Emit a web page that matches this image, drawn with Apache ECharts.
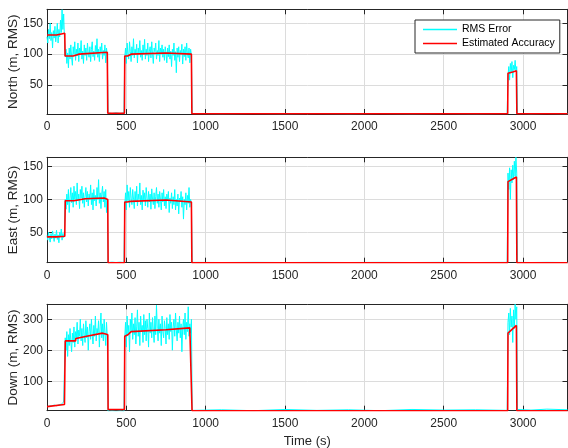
<!DOCTYPE html>
<html>
<head>
<meta charset="utf-8">
<script src="https://cdn.jsdelivr.net/npm/echarts@6/dist/echarts.min.js"></script>
<style>
html,body{margin:0;padding:0;background:#fff;}
#chart{width:568px;height:448px;}
</style>
</head>
<body>
<div id="chart"></div>
<script>
// ---------------- DATA ----------------
const X_MAX = 3280;
const X_TICK_STEP = 500;
const SAMPLE_STEP = 5;            // seconds between listed RMS samples
const seg1Start = 0;              // 0 .. 380 s
const seg2Start = 490;            // 490 .. 910 s
const seg3Start = 2905;           // 2905 .. 2960 s
const gap1T = [385, 410, 435, 460, 485];
const gap2T = [915, 1100, 1300, 1500, 1700, 1900, 2100, 2300, 2500, 2700, 2900];
const gap3T = [2965, 3050, 3150, 3280];

const yLabels = ['North (m, RMS)', 'East (m, RMS)', 'Down (m, RMS)'];
const xLabel = 'Time (s)';
const legendNames = ['RMS Error', 'Estimated Accuracy'];

// North
const northRms1 = [128,118,140,125,150,122,135,110,138,126,
  145,120,132,150,118,140,128,155,135,172,
  140,165,125,96,108,85,102,78,110,92,
  115,95,82,112,100,120,90,108,97,118,
  88,110,102,122,92,105,85,115,98,110,
  90,118,102,95,112,88,108,120,96,105,
  90,114,100,125,95,108,88,112,102,118,
  92,106,98,115,86,110,96];
const northRms2 = [95,110,85,118,100,92,120,104,88,112,
  98,125,94,108,100,116,86,110,102,122,
  95,106,90,115,100,124,92,108,98,118,
  88,105,112,94,120,100,85,110,104,118,
  92,106,98,122,88,110,100,115,95,108,
  90,112,102,86,110,96,115,92,105,80,
  108,98,118,90,104,70,110,95,112,88,
  106,100,116,84,108,96,112,90,118,100,
  94,110,86,108,98];
const northRms3 = [65,80,58,85,70,88,62,82,75,90,72,80];
const northGap1 = [5,4,5,4,5];
const northGap2 = [4,3.5,4,3.5,4,3.5,4,3.5,4,3.5,4];
const northGap3 = [4,3.5,4,3.5];
const northEstT = [0,60,62,112,114,165,168,200,202,380,383,488,490,508,510,530,532,750,752,910,913,2903,2905,2935,2958,2961,3280];
const northEstV = [131,131,134,134,97,97,100,100,103,103,4.5,4.5,97,97,100,100,102,102,100,100,3.5,3.5,69,71,73,3.5,3.5];

// East
const eastRms1 = [45,38,50,42,35,48,40,52,44,36,
  47,41,53,39,46,34,50,43,55,38,
  48,42,52,100,85,108,92,115,80,102,
  118,95,110,88,120,100,112,92,125,98,
  108,86,115,102,120,94,110,88,105,118,
  96,112,90,108,100,122,92,110,84,115,
  98,106,90,118,100,130,94,110,86,108,
  120,96,112,88,115,80,100];
const eastRms2 = [90,110,84,122,98,112,88,118,102,92,
  115,100,86,112,96,120,90,108,100,125,
  92,106,84,114,98,110,90,118,102,88,
  112,96,108,85,116,100,92,110,86,104,
  118,94,108,88,112,100,84,110,96,115,
  90,104,86,108,98,112,80,102,94,110,
  86,104,92,115,84,100,90,108,78,102,
  96,112,88,104,70,100,92,110,84,106,
  94,118,88,100,92];
const eastRms3 = [140,115,148,100,145,125,152,130,158,135,164,140];
const eastGap1 = [4,4.5,4,4.5,4];
const eastGap2 = [4.2,4,4.2,4,4.2,4,4.2,4,4.2,4,4.2];
const eastGap3 = [4.2,4,4.2,4];
const eastEstT = [0,60,62,112,115,170,173,240,242,360,362,383,385,488,490,505,507,525,527,750,752,910,913,2903,2905,2958,2961,3280];
const eastEstV = [43,43,44,44,98,98,101,101,102,102,100,100,3.7,3.7,96,96,97,97,99,99,96,96,3.7,3.7,127,134,3.7,3.7];

// Down
const downRms1 = [18,22,15,20,24,17,21,26,19,23,
  18,25,21,27,20,24,28,22,26,30,
  24,33,27,240,200,260,180,250,215,270,
  230,195,255,225,275,210,260,240,290,220,
  265,245,300,230,270,215,285,250,225,295,
  240,275,200,260,285,235,300,250,220,280,
  245,310,230,270,255,295,210,275,320,240,
  285,230,300,255,215,290,240];
const downRms2 = [240,290,210,310,250,280,195,300,260,320,
  235,285,250,305,220,275,330,245,290,215,
  310,260,280,225,315,250,295,230,300,270,
  210,320,255,290,240,305,265,225,310,250,
  345,270,230,300,255,285,215,310,260,240,
  295,270,220,305,250,285,235,315,260,290,
  200,275,300,245,320,265,230,290,255,310,
  240,285,195,270,300,250,320,235,290,260,
  340,245,285,255,300];
const downRms3 = [290,320,250,335,275,310,225,330,270,348,300,340];
const downGap1 = [3,4,3,4,3];
const downGap2 = [6,8,5,9,6,8,5,9,7,8,6];
const downGap3 = [9,7,10,8];
const downEstT = [0,110,113,115,180,182,250,350,370,383,385,488,490,510,530,750,752,900,912,914,2903,2905,2958,2961,3280];
const downEstV = [18,25,25,230,230,238,245,255,252,250,9,9,245,250,260,266,264,272,272,5,5,255,280,5,5];

const yLimits = [[3.2, 172.6], [3.7, 164], [5, 348]];
const yTickStep = [50, 50, 100];

// ---------------- BUILD ----------------
function seg(start, vals){ return vals.map((v,i)=>[start + i*SAMPLE_STEP, v]); }
function pairs(ts, vs){ return ts.map((t,i)=>[t, vs[i]]); }

const rmsSets = [
  [].concat(seg(seg1Start,northRms1), pairs(gap1T,northGap1), seg(seg2Start,northRms2), pairs(gap2T,northGap2), seg(seg3Start,northRms3), pairs(gap3T,northGap3)),
  [].concat(seg(seg1Start,eastRms1), pairs(gap1T,eastGap1), seg(seg2Start,eastRms2), pairs(gap2T,eastGap2), seg(seg3Start,eastRms3), pairs(gap3T,eastGap3)),
  [].concat(seg(seg1Start,downRms1), pairs(gap1T,downGap1), seg(seg2Start,downRms2), pairs(gap2T,downGap2), seg(seg3Start,downRms3), pairs(gap3T,downGap3))
];
const estSets = [pairs(northEstT,northEstV), pairs(eastEstT,eastEstV), pairs(downEstT,downEstV)];

const AX = '#262626';
const GRIDC = '#dcdcdc';
const FONT = 'Liberation Sans, Arial, Helvetica, sans-serif';
const gridsPos = [
  {top: 9.3, height: 104.7},
  {top: 157.3, height: 105.4},
  {top: 304.3, height: 106.4}
];

const grids = [], xAxes = [], yAxes = [], series = [];
gridsPos.forEach((g, i) => {
  grids.push({left: 47, top: g.top, width: 520.5, height: g.height, outerBoundsMode: 'none', containLabel: false});
  const baseX = {
    type: 'value', gridIndex: i, min: 0, max: X_MAX, interval: X_TICK_STEP,
    axisLine: {show: true, onZero: false, lineStyle: {color: AX, width: 1}},
    axisTick: {show: true, inside: true, length: 5, lineStyle: {color: AX, width: 1}},
  };
  xAxes.push(Object.assign({}, baseX, {
    position: 'bottom',
    axisLabel: {show: true, color: AX, fontSize: 12, fontFamily: FONT, margin: 7,
      formatter: v => (v % X_TICK_STEP === 0 ? String(v) : '')},
    splitLine: {show: true, lineStyle: {color: GRIDC, width: 1}},
    name: i === 2 ? xLabel : '', nameLocation: 'middle', nameGap: 24, nameMoveOverlap: false,
    nameTextStyle: {color: AX, fontSize: 13, fontFamily: FONT}
  }));
  xAxes.push(Object.assign({}, baseX, {
    position: 'top', axisLabel: {show: false}, splitLine: {show: false}
  }));
  const step = yTickStep[i];
  const baseY = {
    type: 'value', gridIndex: i, min: yLimits[i][0], max: yLimits[i][1], splitNumber: 3,
    axisLine: {show: true, onZero: false, lineStyle: {color: AX, width: 1}},
    axisTick: {show: true, inside: true, length: 5, lineStyle: {color: AX, width: 1}},
  };
  yAxes.push(Object.assign({}, baseY, {
    position: 'left',
    axisLabel: {show: true, color: AX, fontSize: 12, fontFamily: FONT, margin: 4,
      formatter: v => (Math.abs(v % step) < 1e-9 ? String(v) : '')},
    splitLine: {show: true, lineStyle: {color: GRIDC, width: 1}},
    name: yLabels[i], nameLocation: 'middle', nameGap: 27, nameMoveOverlap: false,
    nameTextStyle: {color: AX, fontSize: 13.5, fontFamily: FONT}
  }));
  yAxes.push(Object.assign({}, baseY, {
    position: 'right', axisLabel: {show: false}, splitLine: {show: false}
  }));
  series.push({
    name: legendNames[0], type: 'line', xAxisIndex: 2*i, yAxisIndex: 2*i,
    data: rmsSets[i], symbol: 'none', showSymbol: false,
    lineStyle: {color: '#00FFFF', width: 1}, itemStyle: {color: '#00FFFF'},
    animation: false, z: 2
  });
  series.push({
    name: legendNames[1], type: 'line', xAxisIndex: 2*i, yAxisIndex: 2*i,
    data: estSets[i], symbol: 'none', showSymbol: false,
    lineStyle: {color: '#FF0000', width: 1.6}, itemStyle: {color: '#FF0000'},
    animation: false, z: 3
  });
});

const chart = echarts.init(document.getElementById('chart'), null, {renderer: 'canvas'});
chart.setOption({
  animation: false,
  backgroundColor: '#ffffff',
  grid: grids,
  xAxis: xAxes,
  yAxis: yAxes,
  legend: {
    data: [{name: legendNames[0], icon: 'rect'}, {name: legendNames[1], icon: 'rect'}],
    left: 415, top: 20, orient: 'vertical',
    itemWidth: 34, itemHeight: 1.6, itemGap: 3,
    padding: [4, 5, 4, 8],
    backgroundColor: '#ffffff', borderColor: AX, borderWidth: 1,
    textStyle: {color: '#000', fontSize: 10.5, fontFamily: FONT},
    selectedMode: false
  },
  series: series
});
</script>
</body>
</html>
